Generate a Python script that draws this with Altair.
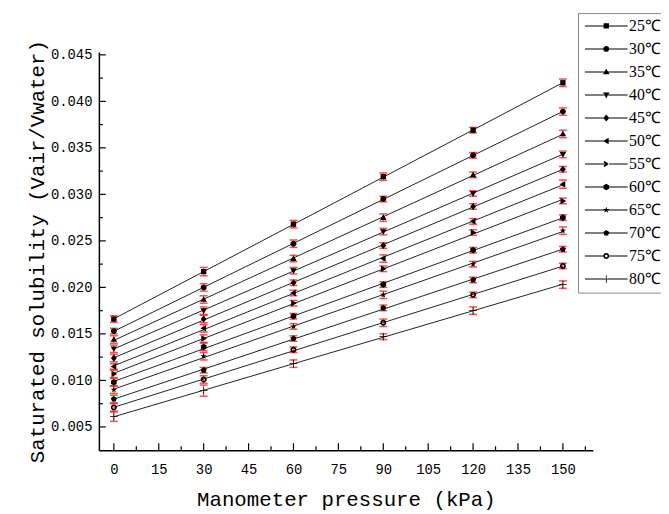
import altair as alt
import pandas as pd

pressure = [0, 30, 60, 90, 120, 150]
series = ["25℃", "30℃", "35℃", "40℃", "45℃", "50℃", "55℃", "60℃", "65℃", "70℃", "75℃", "80℃"]

s25 = [0.0166, 0.0217, 0.0268, 0.0319, 0.0369, 0.0420]
s30 = [0.0153, 0.0200, 0.0247, 0.0295, 0.0342, 0.0389]
s35 = [0.0144, 0.0187, 0.0231, 0.0275, 0.0321, 0.0365]
s40 = [0.0134, 0.0175, 0.0218, 0.0260, 0.0301, 0.0343]
s45 = [0.0124, 0.0166, 0.0205, 0.0245, 0.0287, 0.0327]
s50 = [0.0115, 0.0156, 0.0194, 0.0231, 0.0271, 0.0311]
s55 = [0.0107, 0.0145, 0.0183, 0.0220, 0.0259, 0.0293]
s60 = [0.0098, 0.0136, 0.0169, 0.0203, 0.0240, 0.0275]
s65 = [0.0090, 0.0126, 0.0158, 0.0192, 0.0225, 0.0261]
s70 = [0.0080, 0.0111, 0.0145, 0.0178, 0.0208, 0.0241]
s75 = [0.0071, 0.0101, 0.0133, 0.0162, 0.0192, 0.0223]
s80 = [0.0061, 0.0089, 0.0118, 0.0147, 0.0175, 0.0203]
values = [s25, s30, s35, s40, s45, s50, s55, s60, s65, s70, s75, s80]

e25 = [0.00035, 0.00045, 0.0004, 0.0004, 0.0003, 0.0004]
e30 = [0.0003, 0.0004, 0.0004, 0.0003, 0.0003, 0.0004]
e35 = [0.0004, 0.0004, 0.00035, 0.0004, 0.0003, 0.0004]
e40 = [0.0004, 0.0004, 0.00035, 0.00035, 0.0003, 0.00035]
e45 = [0.0004, 0.0004, 0.0003, 0.0003, 0.0003, 0.0003]
e50 = [0.0003, 0.0004, 0.0003, 0.0004, 0.0003, 0.00045]
e55 = [0.0004, 0.0004, 0.0003, 0.0003, 0.0003, 0.0003]
e60 = [0.0004, 0.0004, 0.0003, 0.0003, 0.0003, 0.0003]
e65 = [0.0004, 0.0004, 0.0003, 0.0004, 0.0003, 0.0004]
e70 = [0.0004, 0.0003, 0.0003, 0.0003, 0.0003, 0.0003]
e75 = [0.0004, 0.0004, 0.0003, 0.0004, 0.0003, 0.0003]
e80 = [0.0005, 0.0006, 0.0004, 0.0003, 0.0004, 0.0004]
errors = [e25, e30, e35, e40, e45, e50, e55, e60, e65, e70, e75, e80]

x_ticks = [0, 15, 30, 45, 60, 75, 90, 105, 120, 135, 150]
x_minor = [7.5, 22.5, 37.5, 52.5, 67.5, 82.5, 97.5, 112.5, 127.5, 142.5, 157.5]
y_ticks = [0.005, 0.010, 0.015, 0.020, 0.025, 0.030, 0.035, 0.040, 0.045]
y_minor = [0.0075, 0.0125, 0.0175, 0.0225, 0.0275, 0.0325, 0.0375, 0.0425]

# marker shapes (unit-box SVG paths)
sq = "M-0.9,-0.9H0.9V0.9H-0.9Z"
circ = "M1,0A1,1,0,1,1,-1,0A1,1,0,1,1,1,0Z"
tri_up = "M0,-1.1L1.1,0.8H-1.1Z"
tri_dn = "M0,1.1L1.1,-0.8H-1.1Z"
diam = "M0,-1.2L1,0L0,1.2L-1,0Z"
tri_l = "M-1.1,0L0.8,-1.1V1.1Z"
tri_r = "M1.1,0L-0.8,-1.1V1.1Z"
hexa = "M0.95,-0.55L0.95,0.55L0,1.1L-0.95,0.55L-0.95,-0.55L0,-1.1Z"
star = ("M0,-1.1L0.26,-0.36L1.05,-0.34L0.42,0.14L0.65,0.89L0,0.44L-0.65,0.89"
        "L-0.42,0.14L-1.05,-0.34L-0.26,-0.36Z")
penta = "M0,-1.05L1,-0.32L0.62,0.85L-0.62,0.85L-1,-0.32Z"
ring = ("M1,0A1,1,0,1,1,-1,0A1,1,0,1,1,1,0Z "
        "M0.45,0A0.45,0.45,0,1,0,-0.45,0A0.45,0.45,0,1,0,0.45,0Z")
plus = "M-1.3,-0.13H-0.13V-1.3H0.13V-0.13H1.3V0.13H0.13V1.3H-0.13V0.13H-1.3Z"
markers = [sq, circ, tri_up, tri_dn, diam, tri_l, tri_r, hexa, star, penta, ring, plus]
legline = "M-7.2,-0.17H-0.5V0.17H-7.2Z M0.5,-0.17H7.2V0.17H0.5Z "
legend_shapes = [legline + m for m in markers]

rows = []
for name, vals, errs in zip(series, values, errors):
    for p, v, e in zip(pressure, vals, errs):
        rows.append({"series": name, "p": p, "v": v, "lo": v - e, "hi": v + e})
df = pd.DataFrame(rows)

W, H = 500, 403
xs = alt.Scale(domain=[-5, 160], nice=False, zero=False)
ys = alt.Scale(domain=[0.0025, 0.0453], nice=False, zero=False)

font_lab = "Liberation Mono"
font_title = "Liberation Mono"

x_axis = alt.Axis(values=x_ticks, ticks=False, grid=False, domainColor="black",
                  domainWidth=1.5, labelFont=font_lab, labelFontSize=14,
                  labelColor="black", labelPadding=13, title="Manometer pressure (kPa)",
                  titleFont=font_title, titleFontSize=21, titleFontWeight="normal",
                  titleColor="black", titlePadding=12)
y_axis = alt.Axis(values=y_ticks, format=".3f", ticks=False, grid=False,
                  domainColor="black", domainWidth=1.5, labelFont=font_lab,
                  labelFontSize=14, labelColor="black", labelPadding=7,
                  title="Saturated solubility (Vair/Vwater)", titleFont=font_title,
                  titleFontSize=21, titleFontWeight="normal", titleColor="black",
                  titlePadding=3)

base = alt.Chart(df)
X = lambda f: alt.X(f, scale=xs, axis=x_axis)
Y = lambda f: alt.Y(f, scale=ys, axis=y_axis)

lines = base.transform_regression("p", "v", groupby=["series"]).mark_line(
    color="#222", strokeWidth=1
).encode(x=X("p:Q"), y=Y("v:Q"), detail="series:N")

ebar = base.mark_rule(color="#ff0000", strokeWidth=1, opacity=0.6).encode(
    x=X("p:Q"), y=Y("lo:Q"), y2="hi:Q")
cap_lo = base.mark_tick(color="#ff0000", size=8, thickness=1.5, orient="horizontal").encode(
    x=X("p:Q"), y=Y("lo:Q"))
cap_hi = base.mark_tick(color="#ff0000", size=8, thickness=1.5, orient="horizontal").encode(
    x=X("p:Q"), y=Y("hi:Q"))

points = base.mark_point(filled=True, size=36, color="black", opacity=1).encode(
    x=X("p:Q"), y=Y("v:Q"),
    shape=alt.Shape("series:N", scale=alt.Scale(domain=series, range=markers), legend=None),
)

legend_layer = base.transform_filter("datum.p < -1000").mark_point(
    filled=True, size=36, color="black", opacity=1
).encode(
    x=X("p:Q"), y=Y("v:Q"),
    shape=alt.Shape(
        "series:N",
        scale=alt.Scale(domain=series, range=legend_shapes),
        legend=alt.Legend(
            orient="none", legendX=485, legendY=-39.5, title=None,
            symbolSize=36, symbolOffset=15.6, labelOffset=15,
            labelFont="Liberation Serif", labelFontSize=16, labelColor="black",
            rowPadding=7.3, padding=5, strokeColor="#888888", fillColor="white",
            symbolFillColor="black", symbolStrokeWidth=0, symbolOpacity=1,
        ),
    ),
)

xt_df = pd.DataFrame({"t": x_ticks})
xm_df = pd.DataFrame({"t": x_minor})
yt_df = pd.DataFrame({"t": y_ticks})
ym_df = pd.DataFrame({"t": y_minor})

xt = alt.Chart(xt_df).mark_rule(color="black", strokeWidth=1.2).encode(
    x=X("t:Q"), y=alt.value(H), y2=alt.value(H - 7))
xm = alt.Chart(xm_df).mark_rule(color="black", strokeWidth=1.2).encode(
    x=X("t:Q"), y=alt.value(H), y2=alt.value(H - 4))
yt = alt.Chart(yt_df).mark_rule(color="black", strokeWidth=1.2).encode(
    y=Y("t:Q"), x=alt.value(0), x2=alt.value(7))
ym = alt.Chart(ym_df).mark_rule(color="black", strokeWidth=1.2).encode(
    y=Y("t:Q"), x=alt.value(0), x2=alt.value(4))

chart = alt.layer(
    lines, xt, xm, yt, ym, ebar, cap_lo, cap_hi, points, legend_layer
).resolve_scale(shape="independent").properties(
    width=W, height=H,
    autosize=alt.AutoSizeParams(type="none"),
    padding={"left": 92, "top": 41.5, "right": 69, "bottom": 61.5},
    background="white",
).configure_view(stroke=None)

chart.save("out.html", embed_options={"renderer": "svg", "actions": False})
